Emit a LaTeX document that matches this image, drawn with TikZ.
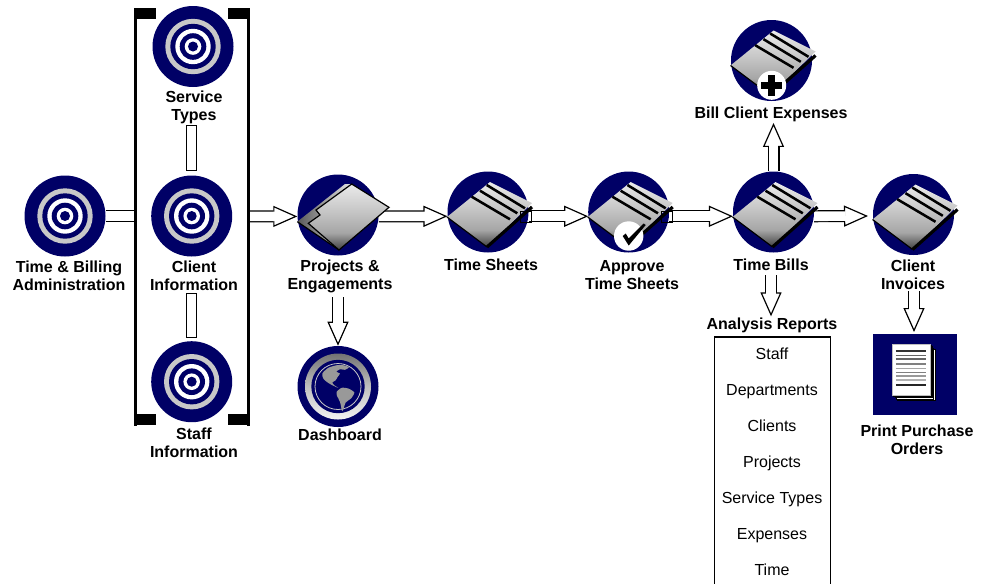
\documentclass[tikz,border=0pt]{standalone}
\usepackage{fontspec}
\setmainfont{Liberation Sans}
\usetikzlibrary{arrows.meta}
\definecolor{discNavy}{RGB}{0,0,102}
\definecolor{ringGray}{RGB}{200,200,200}
\pgfdeclareverticalshading{sheetShade}{100bp}{color(0bp)=(black!75); color(25bp)=(black!75); color(38bp)=(black!35); color(55bp)=(black!22); color(75bp)=(black!8); color(100bp)=(black!8)}
\pgfdeclareverticalshading{ringShade}{100bp}{color(0bp)=(black!5); color(25bp)=(black!5); color(50bp)=(black!25); color(75bp)=(black!55); color(100bp)=(black!55)}
\tikzset{
  every pic/.style={yscale=-1},
  disc/.style={circle,fill=discNavy,inner sep=0pt,minimum size=60.75pt},
  boldlabel/.style={font=\fontsize{12}{13.5}\selectfont\bfseries,align=center,inner sep=0.75pt},
  boldsingle/.style={boldlabel,text height=8.6pt,text depth=2.5pt},
  reportitem/.style={font=\fontsize{12}{13.5}\selectfont,inner sep=0.75pt,text height=8.6pt,text depth=2.5pt},
  blocklink/.style={line width=9pt,postaction={draw=white,line width=7.2pt,arrows=-}},
  blockarrow/.style={line width=9pt,-{Triangle[fill=white,length=18pt,width=15.75pt,line width=0.9pt]},postaction={draw=white,line width=7.2pt,arrows=-,shorten >=16.7pt}},
  closedbar/.style={line width=8.6pt,draw=black,postaction={draw=white,line width=6.8pt,shorten >=0.9pt,shorten <=0.9pt}},
  pics/targetrings/.style={code={
    \fill[ringGray] (0,0) circle (27.7);
    \fill[discNavy] (0,0) circle (22.7);
    \fill[white] (0,0) circle (17.7);
    \fill[discNavy] (0,0) circle (13.3);
    \fill[white] (0,0) circle (8.3);
    \fill[discNavy] (0,0) circle (5);
  }},
  pics/sheetface/.style={code={
    \shade[shading=sheetShade] (-41,5) -- (2,-30) -- (44,-9) -- (-1,35) -- cycle;
    \draw[line width=0.9pt] (-41,5) -- (-1,35);
    \draw[line width=2.4pt] (-1,35) -- (44,-5);
    \draw[line width=1.9pt] (-16.3,-15.3) -- (22,7.3);
    \draw[line width=1.9pt] (-8,-21.3) -- (29.3,1.3);
    \draw[line width=1.9pt] (-1.3,-27) -- (37,-3.7);
  }},
  pics/folderface/.style={code={
    %back leaf
    \shade[left color=black!65,right color=black!10] (-40.7,6.7) -- (7,-31) -- (13.7,-31) -- (1,35) -- cycle;
    \draw[line width=0.9pt] (-40.7,6.7) -- (1,35);
    %front leaf
    \shade[shading=sheetShade,draw=black,line width=0.9pt] (13.7,-31) -- (51,-7.7) -- (1,35) -- (-29.7,8.3) -- (-18,0) -- (-22,-5) -- cycle;
  }},
  pics/globeface/.style={code={
    \shade[shading=ringShade] (0,0) circle (33);
    \fill[discNavy] (0,0) circle (26.7);
    \draw[ringGray,line width=0.6pt] (0,0) circle (23);
    \fill[black!40] plot [smooth cycle,tension=0.4] coordinates {(-15.7,-13) (-9.7,-18.7) (-1.3,-21.3) (5.3,-21.3) (11,-19.3) (7,-16.7) (2,-17.3) (-1.7,-14.7) (2,-13) (-0.3,-9.7) (-2.3,-6.3) (-5.7,-4) (-3.7,-1.3) (0.3,1.3) (-2.3,0.3) (-7,-2) (-11.3,-4.7) (-14.7,-8)};
    \fill[black!40] plot [smooth cycle,tension=0.4] coordinates {(-1.3,5.3) (3.7,1.3) (10.3,2) (16.3,6) (13,12) (7.7,16) (4.3,24.7) (2,15.3) (-1,9.3)};
  }},
  pics/pagestack/.style={code={
    \foreach \shiftby in {5.2,3.9,2.6,1.3}
      \draw[fill=white,line width=0.5pt] (-18.7+\shiftby,-25.5+\shiftby) rectangle (18.7+\shiftby,25.5+\shiftby);
    \fill[white] (-18.7,-25.5) rectangle (18.7,25.5);
    \draw[black!25,line width=0.3pt] (-18.7,-25.5) rectangle (18.7,25.5);
    \foreach \rowat/\rowshade in {-18.5/80,-13.8/60,-10.5/60,-5.5/50,-1.2/35,2.8/50,6.5/40,10.5/30,15.5/85}
      \draw[black!\rowshade,line width=0.9pt] (-15.2,\rowat) -- (15.2,\rowat);
  }}
}
\begin{document}
\begin{tikzpicture}[x=0.75pt,y=0.75pt,yscale=-1,xscale=1]
\useasboundingbox (0,0) rectangle (987,583);

%Shape: Circle discs
\node[disc] (timeBilling) at (65,216) {};
\node[disc] (serviceTypes) at (193,46.5) {};
\node[disc] (clientInfo) at (191.7,216) {};
\node[disc] (staffInfo) at (191.7,381.7) {};
\node[disc] (projects) at (338,215) {};
\node[disc] (timeSheets) at (488,212) {};
\node[disc] (approve) at (628.7,212) {};
\node[disc] (billExpenses) at (771.5,60.5) {};
\node[disc] (timeBills) at (773.5,212) {};
\node[disc] (clientInvoices) at (913.5,214.5) {};
\node[disc] (dashboard) at (338,386.5) {};
\node[fill=discNavy,inner sep=0pt,minimum width=62.3pt,minimum height=60.5pt] (printOrders) at (915,374.7) {};

% Text Node
\node[boldlabel] (timeBillingLabel) at (69,276) {Time \& Billing\\Administration};
\node[boldlabel] (serviceLabel) at (194,107.5) {Service\\Types};
\node[boldlabel] (clientLabel) at (194,275.5) {Client\\Information};
\node[boldlabel] (staffLabel) at (194,443) {Staff\\Information};
\node[boldlabel] (projectsLabel) at (340,276.5) {Projects \&\\Engagements};
\node[boldsingle] (sheetsLabel) at (491,266.6) {Time Sheets};
\node[boldlabel] (approveLabel) at (632,275) {Approve\\Time Sheets};
\node[boldsingle] (billsLabel) at (771,266.8) {Time Bills};
\node[boldsingle] (expensesLabel) at (771,114.3) {Bill Client Expenses};
\node[boldlabel] (invoicesLabel) at (913,275) {Client\\Invoices};
\node[boldsingle] (reportsLabel) at (772,325) {Analysis Reports};
\node[boldsingle] (dashboardLabel) at (340,436.6) {Dashboard};
\node[boldlabel] (printLabel) at (917,440) {Print Purchase\\Orders};

%Shape: Bracket frame
\draw[line width=2.6pt] (135.7,8) -- (135.7,426);
\draw[line width=2.6pt] (248.3,8) -- (248.3,426);
\fill (134,8) rectangle (156,19);
\fill (228,8) rectangle (250,19);
\fill (135,414) rectangle (156,425);
\fill (228,414) rectangle (250,425);
\coordinate (frameWest) at (134,216);
\coordinate (frameEast) at (250,216.4);

%Shape: Report box
\draw[line width=0.9pt] (714.5,590) -- (714.5,337) -- (830.5,337) -- (830.5,590);
\node[reportitem] (reportStaff) at (772,355) {Staff};
\node[reportitem] (reportDepartments) at (772,391) {Departments};
\node[reportitem] (reportClients) at (772,427) {Clients};
\node[reportitem] (reportProjects) at (772,463) {Projects};
\node[reportitem] (reportServices) at (772,499) {Service Types};
\node[reportitem] (reportExpenses) at (772,535) {Expenses};
\node[reportitem] (reportTime) at (772,571) {Time};

%Straight Lines bars
\coordinate (barTopA) at (191.5,125);
\coordinate (barTopB) at (191.5,171);
\coordinate (barLowA) at (191.5,293);
\coordinate (barLowB) at (191.5,338);
\draw[closedbar] (barTopA) -- (barTopB);
\draw[closedbar] (barLowA) -- (barLowB);

%Block arrows
\coordinate (invoicesTip) at (868,216);
\coordinate (dashboardTail) at (338,297);
\coordinate (printTip) at (914,332);
\coordinate (stackCentre) at (911,369.5);
\draw[blocklink] (timeBilling.east) -- (frameWest);
\draw[blockarrow] (frameEast) -- (projects.182);
\draw[blockarrow] (projects.-2) -- (timeSheets.186);
\draw[blockarrow] (timeSheets.-6) -- (approve.186);
\draw[blockarrow] (approve.-6) -- (timeBills.186);
\draw[blockarrow] (timeBills.-6) -- (invoicesTip);
\draw[blockarrow] (timeBills.north) -- (timeBills.north |- expensesLabel.south);
\draw[blockarrow] (billsLabel.south) -- (billsLabel.south |- reportsLabel.north);
\draw[blockarrow] (dashboardTail) -- (dashboard.north);
\draw[blockarrow] (invoicesLabel.south -| printTip) -- (printTip);

%Icons
\pic at (timeBilling) {targetrings};
\pic at (serviceTypes) {targetrings};
\pic at (clientInfo) {targetrings};
\pic at (staffInfo) {targetrings};
\pic at (projects) {folderface};
\pic at (timeSheets) {sheetface};
\pic at (approve) {sheetface};
\pic at (billExpenses) {sheetface};
\pic at (timeBills) {sheetface};
\pic at (clientInvoices) {sheetface};
\pic at (dashboard) {globeface};
\pic at (stackCentre) {pagestack};

%Arrow tails showing over the sheets
\draw[line width=0.6pt] (520,211) rectangle (531,222);
\draw[line width=0.6pt] (661,211) rectangle (672,222);

%Shape: check badge
\fill[white] (628.7,236) circle (14.7);
\fill (622.7,236) -- (625.7,233.5) -- (628.7,238.5) -- (643.7,223.5) -- (645.7,225) -- (628.7,245.5) -- cycle;
%Shape: plus badge
\fill[white] (771.7,85.3) circle (14.5);
\fill (768.2,74.5) rectangle (775.2,96);
\fill (761,81.8) rectangle (782.4,88.8);

\end{tikzpicture}
\end{document}
